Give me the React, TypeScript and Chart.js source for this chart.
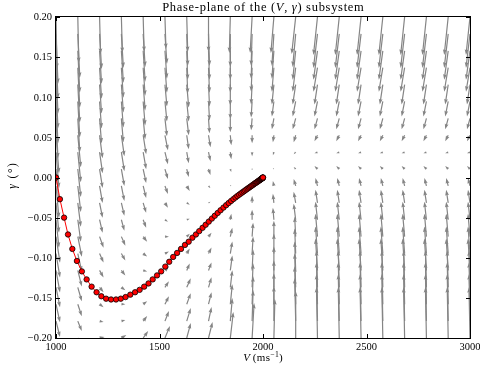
import React, { useEffect, useRef } from "react";
import { Chart, registerables } from "chart.js";

Chart.register(...registerables);

// ---------- data ----------
const X_TICKS = [1000, 1500, 2000, 2500, 3000];
const Y_TICKS = [-0.2, -0.15, -0.1, -0.05, 0, 0.05, 0.1, 0.15, 0.2];

// quiver grid (20 x 20)
const QUIVER_V = [1000, 1105.3, 1210.5, 1315.8, 1421.1, 1526.3, 1631.6, 1736.8, 1842.1, 1947.4,
  2052.6, 2157.9, 2263.2, 2368.4, 2473.7, 2578.9, 2684.2, 2789.5, 2894.7, 3000];
const QUIVER_GAMMA = [-0.2, -0.17895, -0.15789, -0.13684, -0.11579, -0.09474, -0.07368, -0.05263,
  -0.03158, -0.01053, 0.01053, 0.03158, 0.05263, 0.07368, 0.09474, 0.11579, 0.13684, 0.15789, 0.17895, 0.2];
// arrow components (rows = gamma index from bottom, cols = V index)
const QUIVER_U = [
  [5, 5, 5, 5, 5, 5, 4, 4, 3, 2, 1, 0, -1, -1, -1, -1, -1, -1, -1, -1],
  [4, 4, 4, 4, 4, 4, 4, 3, 2, 1, 0, -1, -1, -1, -1, -1, -1, -1, -1, -1],
  [4, 4, 4, 4, 4, 4, 4, 3, 2, 1, 0, -1, -1, -1, -1, -1, -1, -1, -1, -1],
  [4, 4, 4, 4, 4, 4, 4, 3, 2, 1, 0, -1, -1, -1, -1, -1, -1, -1, -1, -1],
  [4, 4, 4, 4, 4, 4, 3, 3, 2, 1, 0, -1, -2, -2, -2, -2, -2, -2, -2, -2],
  [4, 4, 4, 4, 4, 4, 3, 3, 2, 1, 0, -1, -2, -2, -2, -2, -2, -2, -2, -2],
  [4, 4, 4, 4, 4, 4, 3, 3, 2, 1, 0, -1, -2, -2, -2, -2, -2, -2, -2, -2],
  [3, 3, 3, 3, 3, 3, 3, 2, 1, 0, -1, -2, -2, -2, -2, -2, -2, -2, -2, -2],
  [3, 3, 3, 3, 3, 3, 3, 2, 1, 0, -1, -2, -2, -2, -2, -2, -2, -2, -2, -2],
  [3, 3, 3, 3, 3, 3, 3, 2, 1, 0, -1, -2, -2, -2, -2, -2, -2, -2, -2, -2],
  [3, 3, 3, 3, 3, 3, 2, 2, 1, 0, -1, -2, -3, -3, -3, -3, -3, -3, -3, -3],
  [3, 3, 3, 3, 3, 3, 2, 2, 1, 0, -1, -2, -3, -3, -3, -3, -3, -3, -3, -3],
  [3, 3, 3, 3, 3, 3, 2, 2, 1, 0, -1, -2, -3, -3, -3, -3, -3, -3, -3, -3],
  [2, 2, 2, 2, 2, 2, 2, 1, 0, -1, -2, -3, -3, -3, -3, -3, -3, -3, -3, -3],
  [2, 2, 2, 2, 2, 2, 2, 1, 0, -1, -2, -3, -3, -3, -3, -3, -3, -3, -3, -3],
  [2, 2, 2, 2, 2, 2, 2, 1, 0, -1, -2, -3, -3, -3, -3, -3, -3, -3, -3, -3],
  [2, 2, 2, 2, 2, 2, 1, 1, 0, -1, -2, -3, -4, -4, -4, -4, -4, -4, -4, -4],
  [2, 2, 2, 2, 2, 2, 1, 1, 0, -1, -2, -3, -4, -4, -4, -4, -4, -4, -4, -4],
  [2, 2, 2, 2, 2, 2, 1, 1, 0, -1, -2, -3, -4, -4, -4, -4, -4, -4, -4, -4],
  [1, 1, 1, 1, 1, 1, 1, 0, -1, -2, -3, -4, -4, -4, -4, -4, -4, -4, -4, -4],
];
const QUIVER_W = [
  [-14, -8, 1, 3, 7, 12, 15, 16, 26, 35, 39, 47, 51, 51, 51, 51, 51, 51, 51, 51],
  [-16, -10, -1, 1, 5, 10, 13, 14, 23, 31, 35, 43, 47, 47, 47, 47, 47, 47, 47, 47],
  [-18, -12, -3, 0, 3, 8, 11, 12, 20, 28, 31, 38, 42, 42, 42, 42, 42, 42, 42, 42],
  [-20, -14, -5, -3, 1, 6, 9, 10, 17, 24, 27, 34, 37, 37, 37, 37, 37, 37, 37, 37],
  [-22, -16, -7, -5, -1, 4, 7, 8, 15, 21, 24, 29, 32, 32, 32, 32, 32, 32, 32, 32],
  [-24, -18, -9, -7, -3, 2, 5, 6, 12, 17, 20, 25, 27, 27, 27, 27, 27, 27, 27, 27],
  [-26, -20, -11, -9, -5, 0, 3, 4, 9, 14, 16, 20, 23, 23, 23, 23, 23, 23, 23, 23],
  [-28, -22, -13, -11, -8, -2, 1, 2, 6, 10, 12, 16, 18, 18, 18, 18, 18, 18, 18, 18],
  [-30, -24, -15, -13, -10, -5, -2, 1, 3, 7, 9, 11, 13, 13, 13, 13, 13, 13, 13, 13],
  [-32, -26, -17, -15, -12, -8, -5, -2, 1, 3, 5, 7, 8, 8, 8, 8, 8, 8, 8, 8],
  [-34, -28, -19, -17, -14, -10, -8, -6, -3, 0, 1, 2, 3, 3, 3, 3, 3, 3, 3, 3],
  [-36, -30, -21, -19, -17, -12, -11, -9, -7, -4, -3, -2, -1, -1, -1, -1, -1, -1, -1, -1],
  [-38, -32, -23, -21, -19, -15, -14, -12, -10, -8, -7, -7, -6, -6, -6, -6, -6, -6, -6, -6],
  [-40, -34, -25, -24, -21, -18, -17, -15, -14, -12, -11, -11, -11, -11, -11, -11, -11, -11, -11, -11],
  [-42, -36, -27, -26, -24, -20, -20, -19, -18, -16, -15, -15, -15, -15, -15, -15, -15, -15, -15, -15],
  [-44, -38, -29, -28, -26, -22, -23, -22, -21, -20, -20, -20, -20, -20, -20, -20, -20, -20, -20, -20],
  [-46, -40, -31, -30, -28, -25, -26, -25, -25, -24, -24, -24, -24, -24, -24, -24, -24, -24, -24, -24],
  [-48, -42, -33, -32, -31, -28, -29, -29, -29, -28, -28, -29, -29, -29, -29, -29, -29, -29, -29, -29],
  [-50, -44, -35, -34, -33, -30, -32, -32, -33, -32, -32, -33, -34, -34, -34, -34, -34, -34, -34, -34],
  [-52, -46, -37, -36, -35, -32, -35, -35, -36, -36, -36, -37, -38, -38, -38, -38, -38, -38, -38, -38],
];
const QUIVER_U_UNIT = 4.83; // m/s per arrow unit
const QUIVER_W_UNIT = 0.001246; // gamma per arrow unit

// trajectory
const TRAJ_V = [1000, 1019, 1039, 1058, 1079, 1101, 1125, 1148, 1172, 1196, 1219, 1242, 1266, 1290,
  1313, 1336, 1359, 1382, 1404, 1426, 1447, 1467, 1488, 1508, 1528, 1547, 1566, 1585, 1604, 1623,
  1641, 1659, 1676, 1692, 1708, 1723, 1738, 1753, 1767, 1781, 1795, 1809, 1822, 1834, 1846, 1857,
  1867, 1876, 1884.5, 1892.5, 1900, 1907, 1913.5, 1920, 1926, 1932, 1937.5, 1943, 1948, 1953,
  1957.5, 1962, 1966, 1970, 1973.5, 1977, 1980, 1983, 1985.5, 1988, 1990, 1992, 1993.6, 1995,
  1996.2, 1997.2, 1998, 1998.7, 1999.2, 1999.6, 2000];
const TRAJ_GAMMA = [0, -0.027, -0.05, -0.071, -0.089, -0.104, -0.117, -0.127, -0.136, -0.143, -0.148,
  -0.151, -0.152, -0.152, -0.151, -0.149, -0.146, -0.143, -0.14, -0.136, -0.132, -0.127, -0.122,
  -0.117, -0.111, -0.105, -0.099, -0.094, -0.089, -0.084, -0.08, -0.075, -0.071, -0.0668, -0.0627,
  -0.0589, -0.055, -0.0512, -0.0477, -0.0442, -0.0408, -0.0375, -0.0345, -0.0318, -0.0292, -0.0269,
  -0.0249, -0.0231, -0.0215, -0.0200, -0.0186, -0.0173, -0.0161, -0.0149, -0.0138, -0.0127, -0.0117,
  -0.0107, -0.0098, -0.0089, -0.0080, -0.0072, -0.0065, -0.0058, -0.0052, -0.0045, -0.0040, -0.0034,
  -0.0030, -0.0025, -0.0021, -0.0017, -0.0014, -0.0011, -0.0009, -0.0007, -0.0005, -0.0003, -0.0002,
  -0.0001, 0];

const TITLE_PARTS = [
  { t: "Phase-plane of the (" },
  { t: "V", it: true },
  { t: ", " },
  { t: "\u03b3", it: true },
  { t: ") subsystem" },
];
const XLABEL_PARTS = [{ t: "V", it: true }, { t: "\u2009(ms" }, { t: "\u22121", sup: true }, { t: ")" }];
const YLABEL_PARTS = [{ t: "\u03b3", it: true }, { t: " (" }, { t: "\u00b0" }, { t: ")" }];

const FONT = "'Liberation Serif', 'Times New Roman', serif";

type Part = { t: string; it?: boolean; sup?: boolean };

function drawRich(ctx: CanvasRenderingContext2D, parts: Part[], cx: number, base: number, size: number, spacing = 0) {
  const fontOf = (p: Part) => `${p.it ? "italic " : ""}${p.sup ? size * 0.7 : size}px ${FONT}`;
  const glyphs: { ch: string; font: string; w: number; sup: boolean }[] = [];
  let total = 0;
  parts.forEach((p) => {
    ctx.font = fontOf(p);
    for (const ch of Array.from(p.t)) {
      const w = ctx.measureText(ch).width + spacing;
      glyphs.push({ ch, font: ctx.font, w, sup: !!p.sup });
      total += w;
    }
  });
  total -= spacing;
  let x = cx - total / 2;
  ctx.textAlign = "left";
  ctx.textBaseline = "alphabetic";
  glyphs.forEach((g) => {
    ctx.font = g.font;
    ctx.fillText(g.ch, x, g.sup ? base - size * 0.38 : base);
    x += g.w;
  });
}

function fmtTick(v: number) {
  const s = Math.abs(v).toFixed(2);
  return (v < -1e-9 ? "\u2212" : "") + s;
}

function drawArrow(ctx: CanvasRenderingContext2D, x0: number, y0: number, x1: number, y1: number) {
  const dx = x1 - x0;
  const dy = y1 - y0;
  const L = Math.hypot(dx, dy);
  if (L < 0.4) {
    ctx.beginPath();
    ctx.arc(x0, y0, 0.6, 0, Math.PI * 2);
    ctx.fill();
    return;
  }
  let sw = 0.6; // shaft half width
  let hl = 5.6;
  let hal = 5.0;
  let hw = 1.9;
  if (L < hl) {
    const s = L / hl;
    sw *= Math.max(s, 0.6);
    hl *= s;
    hal *= s;
    hw *= s;
  }
  ctx.save();
  ctx.translate(x0, y0);
  ctx.rotate(Math.atan2(dy, dx));
  ctx.beginPath();
  ctx.moveTo(0, -sw);
  ctx.lineTo(L - hal, -sw);
  ctx.lineTo(L - hl, -hw);
  ctx.lineTo(L, 0);
  ctx.lineTo(L - hl, hw);
  ctx.lineTo(L - hal, sw);
  ctx.lineTo(0, sw);
  ctx.closePath();
  ctx.fill();
  ctx.restore();
}

const quiverPlugin = {
  id: "quiver",
  beforeDatasetsDraw(chart: any) {
    const { ctx, chartArea: a } = chart;
    const xs = chart.scales.x;
    const ys = chart.scales.y;
    ctx.save();
    ctx.beginPath();
    ctx.rect(a.left, a.top, a.right - a.left, a.bottom - a.top);
    ctx.clip();
    ctx.fillStyle = "#858585";
    for (let j = 0; j < QUIVER_GAMMA.length; j++) {
      for (let i = 0; i < QUIVER_V.length; i++) {
        const v = QUIVER_V[i];
        const g = QUIVER_GAMMA[j];
        const x0 = xs.getPixelForValue(v);
        const y0 = ys.getPixelForValue(g);
        const x1 = xs.getPixelForValue(v + QUIVER_U[j][i] * QUIVER_U_UNIT);
        const y1 = ys.getPixelForValue(g + QUIVER_W[j][i] * QUIVER_W_UNIT);
        drawArrow(ctx, x0, y0, x1, y1);
      }
    }
    ctx.restore();
  },
};

const axesPlugin = {
  id: "axesDeco",
  afterDraw(chart: any) {
    const { ctx, chartArea: a } = chart;
    const xs = chart.scales.x;
    const ys = chart.scales.y;
    ctx.save();
    ctx.strokeStyle = "#000";
    ctx.fillStyle = "#000";
    ctx.lineWidth = 1;
    // frame
    ctx.strokeRect(Math.round(a.left) - 0.5, Math.round(a.top) - 0.5, Math.round(a.right - a.left) + 1, Math.round(a.bottom - a.top) + 1);
    // ticks (inward, all sides)
    const tl = 4;
    ctx.beginPath();
    X_TICKS.forEach((t) => {
      const px = Math.round(xs.getPixelForValue(t)) + 0.5;
      ctx.moveTo(px, a.bottom);
      ctx.lineTo(px, a.bottom - tl);
      ctx.moveTo(px, a.top);
      ctx.lineTo(px, a.top + tl);
    });
    Y_TICKS.forEach((t) => {
      const py = Math.round(ys.getPixelForValue(t)) + 0.5;
      ctx.moveTo(a.left, py);
      ctx.lineTo(a.left + tl, py);
      ctx.moveTo(a.right, py);
      ctx.lineTo(a.right - tl, py);
    });
    ctx.stroke();
    // tick labels
    ctx.font = `10.5px ${FONT}`;
    ctx.textAlign = "right";
    ctx.textBaseline = "middle";
    Y_TICKS.forEach((t) => {
      ctx.fillText(fmtTick(t), a.left - 4, ys.getPixelForValue(t) + 0.5);
    });
    ctx.textAlign = "center";
    ctx.textBaseline = "top";
    X_TICKS.forEach((t) => {
      ctx.fillText(String(t), xs.getPixelForValue(t), a.bottom + 4);
    });
    // title and axis labels
    const cx = (a.left + a.right) / 2;
    drawRich(ctx, TITLE_PARTS, cx, 11, 12.5, 0.7);
    drawRich(ctx, XLABEL_PARTS, cx, a.bottom + 23, 11, 0.3);
    ctx.save();
    ctx.translate(16, 176);
    ctx.rotate(-Math.PI / 2);
    drawRich(ctx, YLABEL_PARTS, 0, 0, 11.5, 1.5);
    ctx.restore();
    ctx.restore();
  },
};

export default function App() {
  const ref = useRef<HTMLCanvasElement | null>(null);
  useEffect(() => {
    if (!ref.current) return;
    const data = TRAJ_V.map((v, k) => ({ x: v, y: TRAJ_GAMMA[k] }));
    const chart = new Chart(ref.current, {
      type: "scatter",
      data: {
        datasets: [
          {
            data,
            showLine: true,
            borderColor: "#ff0000",
            borderWidth: 1,
            backgroundColor: "#ff0000",
            pointBackgroundColor: "#ff0000",
            pointBorderColor: "#000000",
            pointBorderWidth: 0.8,
            pointRadius: 2.7,
            clip: 0,
          } as any,
        ],
      },
      options: {
        responsive: false,
        animation: false,
        devicePixelRatio: 1,
        layout: { padding: { left: 56, right: 10, top: 17, bottom: 31 } },
        plugins: { legend: { display: false }, tooltip: { enabled: false }, title: { display: false } },
        events: [],
        scales: {
          x: { type: "linear", min: 1000, max: 3000, display: false },
          y: { type: "linear", min: -0.2, max: 0.2, display: false },
        },
      },
      plugins: [quiverPlugin, axesPlugin],
    });
    return () => chart.destroy();
  }, []);
  return (
    <div style={{ position: "fixed", left: 0, top: 0, width: 480, height: 369, background: "#fff" }}>
      <canvas ref={ref} width={480} height={369} style={{ width: 480, height: 369, display: "block" }} />
    </div>
  );
}
